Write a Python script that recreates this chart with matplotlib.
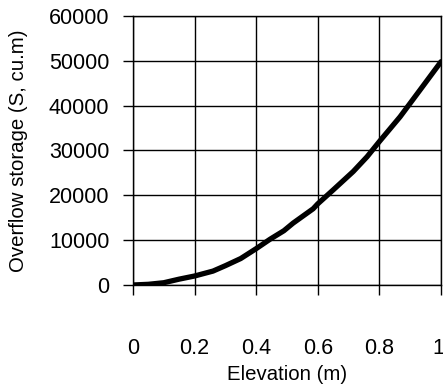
import matplotlib
matplotlib.use("Agg")
from matplotlib import pyplot as plt
from matplotlib.transforms import ScaledTranslation

# values
elevation = [0.0, 0.05, 0.10, 0.15, 0.20, 0.26, 0.30, 0.35, 0.40, 0.445,
             0.49, 0.52, 0.585, 0.60, 0.65, 0.715, 0.76, 0.80, 0.867,
             0.932, 1.0]
storage = [0, 150, 500, 1300, 2000, 3100, 4300, 5900, 8100, 10200,
           12100, 13800, 17000, 18100, 21200, 25300, 28600, 32000, 37500,
           43500, 49800]

x_ticks = [0, 0.2, 0.4, 0.6, 0.8, 1]
x_labels = ["0", "0.2", "0.4", "0.6", "0.8", "1"]
y_ticks = [0, 10000, 20000, 30000, 40000, 50000, 60000]

plt.rcParams["font.family"] = ["Liberation Sans", "DejaVu Sans"]

fig = plt.figure(figsize=(4.43, 3.86), dpi=100)
ax = fig.add_axes([0.300, 0.2617, 0.6955, 0.6969])

ax.plot(elevation, storage, color="black", linewidth=3.8,
        solid_capstyle="round", zorder=3)

ax.set_xlim(0, 1)
ax.set_ylim(0, 60000)
ax.set_xticks(x_ticks, x_labels)
ax.set_yticks(y_ticks)
ax.grid(True, color="black", linewidth=1.0)
for spine in ax.spines.values():
    spine.set_linewidth(1.0)
    spine.set_color("black")

ax.tick_params(axis="x", direction="out", length=7, width=1,
               pad=31, labelsize=15.5)
ax.tick_params(axis="y", direction="out", length=7, width=1,
               pad=10, labelsize=15.5)

# keep the last x label inside the figure
last = ax.get_xticklabels()[-1]
last.set_transform(last.get_transform()
                   + ScaledTranslation(-3 / 100, 0, fig.dpi_scale_trans))

ax.set_xlabel("Elevation (m)", fontsize=14.7)
ax.xaxis.set_label_coords(0.5, -0.297)
ax.set_ylabel("Overflow storage (S, cu.m)", fontsize=14.7)
ax.yaxis.set_label_coords(-0.37, 0.5)
ax.yaxis.label.set_va("center")

fig.savefig("out.png", dpi=100)
